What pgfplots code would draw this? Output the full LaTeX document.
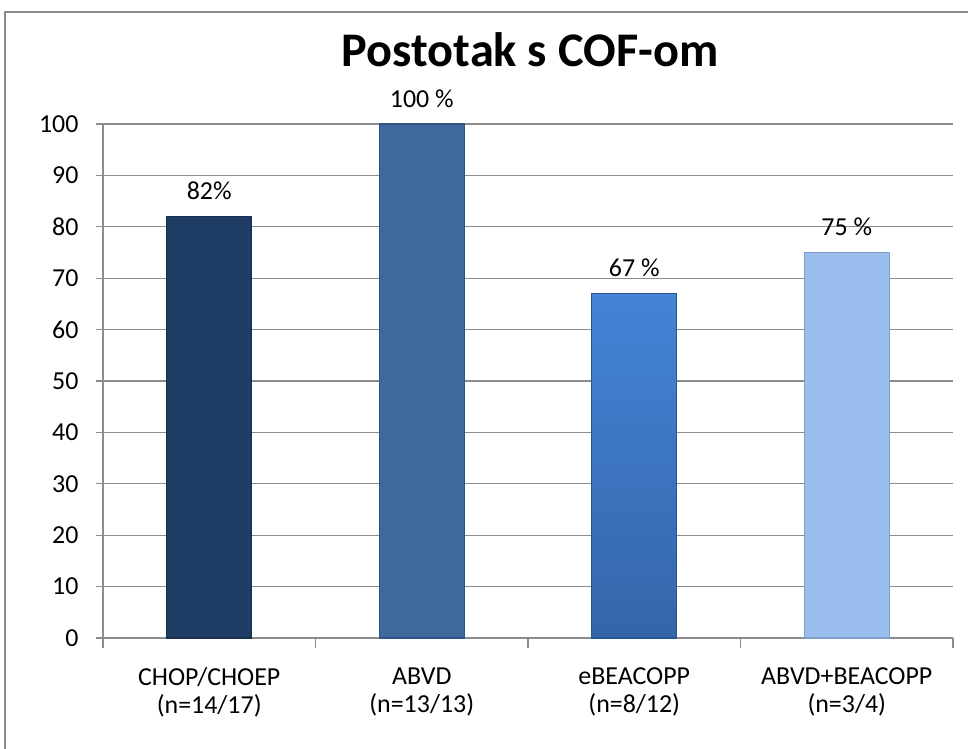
\documentclass[border=0pt]{standalone}
\usepackage{pgfplots}
\pgfplotsset{compat=1.18}
\usepackage{fontspec}
\setmainfont{Carlito}
\definecolor{gridc}{HTML}{8C8C8C}
\definecolor{barA}{HTML}{1F3C64}
\definecolor{barAe}{HTML}{172E4E}
\definecolor{barB}{HTML}{3F699D}
\definecolor{barBe}{HTML}{2F5586}
\definecolor{barCt}{HTML}{4384D6}
\definecolor{barCb}{HTML}{3565A9}
\definecolor{barCe}{HTML}{2A5494}
\definecolor{barD}{HTML}{9CBEEE}
\definecolor{barDe}{HTML}{7E9FCC}
\begin{document}
\begin{tikzpicture}[x=1bp,y=1bp]
\path[use as bounding box] (0,0) rectangle (968,749);
\draw[gridc,line width=2bp] (5,-2) -- (5,737) -- (970,737);
\node[font=\fontsize{48.5}{54}\selectfont\bfseries] at (530,699) {Postotak s COF-om};
\begin{axis}[
  at={(103bp,111bp)}, anchor=south west,
  scale only axis, width=850bp, height=514bp,
  xmin=-0.5, xmax=3.5, ymin=0, ymax=100,
  axis x line*=bottom, axis y line*=left,
  axis line style={gridc, line width=1.3bp},
  ytick={0,10,...,100},
  ymajorgrids, grid style={gridc, line width=1.3bp},
  xtick={0,1,2,3},
  xticklabels={{CHOP/CHOEP\\(n=14/17)},{ABVD\\(n=13/13)},{eBEACOPP\\(n=8/12)},{ABVD+BEACOPP\\(n=3/4)}},
  minor xtick={-0.5,0.5,1.5,2.5,3.5},
  tick align=outside,
  major tick length=7bp, minor tick length=10bp,
  x tick style={draw=none},
  minor x tick style={draw=gridc, line width=1.3bp},
  y tick style={gridc, line width=1.3bp},
  /pgf/number format/assume math mode=true,
  ticklabel style={font=\fontsize{26}{28}\selectfont},
  xticklabel style={align=center, yshift=-19bp},
  yticklabel style={xshift=-14bp},
  ybar, bar width=85bp, bar shift=0pt,
  nodes near coords style={font=\fontsize{26}{28}\selectfont, anchor=south, inner sep=0pt, yshift=16bp},
  clip=false,
]
\addplot[fill=barA, draw=barAe, line width=1.2bp, nodes near coords={82\%}] coordinates {(0,82)};
\addplot[top color=barB, bottom color=barB, draw=barBe, line width=1.2bp, nodes near coords={100 \%}] coordinates {(1,100)};
\addplot[top color=barCt, bottom color=barCb, draw=barCe, line width=1.2bp, nodes near coords={67 \%}] coordinates {(2,67)};
\addplot[fill=barD, draw=barDe, line width=1.2bp, nodes near coords={75 \%}] coordinates {(3,75)};
\end{axis}
\end{tikzpicture}
\end{document}
